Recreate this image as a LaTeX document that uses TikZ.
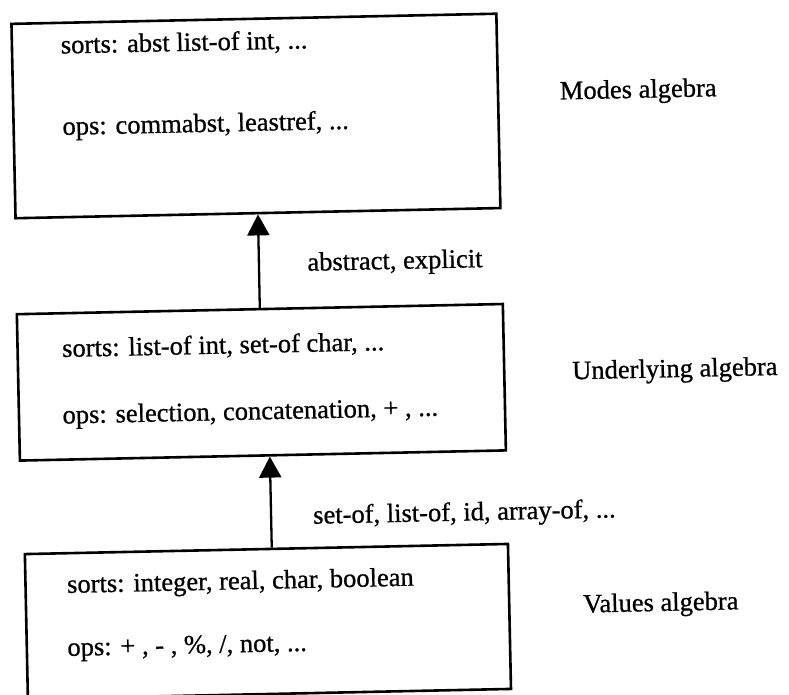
\documentclass[tikz,border=0pt]{standalone}
\usepackage{fontspec}
\setmainfont{Liberation Serif}
\newfontfamily\inkfont{Liberation Serif}[FakeBold=0.8]
\usetikzlibrary{arrows.meta}
\begin{document}
\begin{tikzpicture}[x=1pt,y=-1pt,
  algbox/.style={draw=black, line width=2.6pt, rectangle, anchor=north west, inner sep=0pt},
  txt/.style={anchor=base west, inner sep=0pt, font=\inkfont\fontsize{26.5}{30}\selectfont},
  arr/.style={line width=2.3pt, -{Triangle[length=21pt,width=22pt]}}]
\useasboundingbox (0,0) rectangle (789,694);
\fill[white] (0,0) rectangle (789,694);
\begin{scope}[rotate around={1.2:(394.5,347)}, transform shape]
  % the three algebras
  \node[algbox, minimum width=485pt, minimum height=194.4pt] (modes) at (17,14.6) {};
  \node[algbox, minimum width=486.1pt, minimum height=146.4pt] (under) at (16.3,305) {};
  \node[algbox, minimum width=483.2pt, minimum height=145pt] (values) at (19.3,545) {};
  % contents of the boxes
  \node[txt] (ms) at (67,46.6) {sorts: abst list-of int, ...};
  \node[txt] (mo) at (67,128) {ops: commabst, leastref, ...};
  \node[txt] (us) at (62,350) {sorts: list-of int, set-of char, ...};
  \node[txt] (uo) at (61,416.6) {ops: selection, concatenation, + , ...};
  \node[txt] (vs) at (62,586) {sorts: integer, real, char, boolean};
  \node[txt] (vo) at (61,649) {ops: + , - , \%, /, not, ...};
  % names of the algebras
  \node[txt] (ml) at (565,103) {Modes algebra};
  \node[txt] (ul) at (571.5,383) {Underlying algebra};
  \node[txt] (vl) at (577.6,616.5) {Values algebra};
  % mappings between the levels
  \draw[arr] (under.north) -- (modes.south);
  \draw[arr] ([xshift=5.4pt]values.north) -- ([xshift=6.95pt]under.south);
  \node[txt] (l1) at (309,269) {abstract, explicit};
  \node[txt] (l2) at (309.5,522) {set-of, list-of, id, array-of, ...};
\end{scope}
\end{tikzpicture}
\end{document}
